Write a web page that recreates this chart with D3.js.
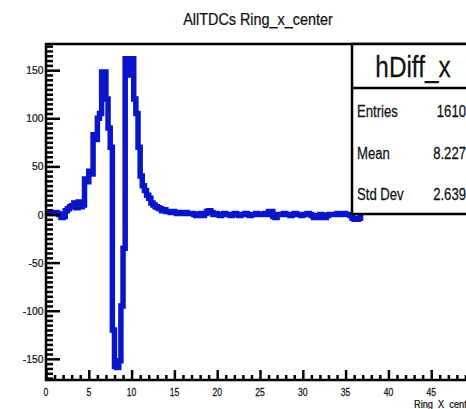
<!DOCTYPE html>
<html>
<head>
<meta charset="utf-8">
<script src="https://cdn.jsdelivr.net/npm/d3@7"></script>
<style>
  html, body { margin: 0; padding: 0; background: #fff; overflow: hidden; }
  text { font-family: "Liberation Sans", Arial, Helvetica, sans-serif; fill: #111; stroke: #111; stroke-width: 0.25px; }
</style>
</head>
<body>
<svg id="chart" width="466" height="409"></svg>
<script>
// ---- data ----
const titleText = "AllTDCs Ring_x_center";
const xAxisTitle = "Ring_X_center";
const histName = "hDiff_x";
const statLabels = ["Entries", "Mean", "Std Dev"];
const statValues = ["1610", "8.227", "2.639"];

const binLow = 0;
const binWidth = 0.25;
// bin contents, 200 bins of 0.25 from 0 to 50
const counts = [
  1, 2, 1, 1, 2, 1, 0, -3, -2, 4,
  6, 8, 9, 12, 7, 13, 8, 10, 37, 34,
  45, 42, 83, 78, 100, 105, 148, 148, 120, 90,
  70, -120, -158, -159, -152, -95, -35, 162, 162, 145,
  162, 120, 105, 70, 40, 30, 25, 20, 17, 12,
  10, 8, 7, 6, 4, 5, 3, 3, 2, 3,
  2, 1, 2, 2, 1, 2, 1, 1, 1, 0,
  -1, 0, 1, -1, 1, 3, 4, 2, 0, 1,
  0, -1, 0, 1, 0, 0, -1, 0, 1, 0,
  -1, 0, 0, 1, 0, -1, 0, 0, 1, 0,
  0, 0, 1, 0, 3, 3, -2, -3, 0, 0,
  0, 1, 0, 0, -1, 0, 1, 0, 0, -1,
  0, 0, 1, 0, -1, -3, -3, -1, 0, -3,
  -3, -1, 0, 0, 0, 0, 1, 0, 0, 1,
  0, 0, -1, -4, -5, -5, -4, 3, 4, 3,
  3, 4, 3, 3, 4, 3, 4, 3, 3, 4,
  3, 3, 4, 3, 3, 4, 3, 4, 3, 3,
  4, 3, 3, 4, 3, 3, 4, 3, 4, 3,
  3, 4, 3, 3, 4, 3, 3, 4, 3, 3,
  4, 3, 3, 4, 3, 3, 4, 3, 3, 4
];

const xTicks = [0, 5, 10, 15, 20, 25, 30, 35, 40, 45, 50];
const xTickLabels = [0, 5, 10, 15, 20, 25, 30, 35, 40, 45];
const yTicks = [-150, -100, -50, 0, 50, 100, 150];

// ---- layout ----
const frame = { left: 46, top: 44, right: 474, bottom: 380 };
const svg = d3.select("#chart");

const x = d3.scaleLinear().domain([0, 50]).range([frame.left, frame.right]);
const y = d3.scaleLinear().domain([-172, 177.2]).range([frame.bottom, frame.top]);

function label(g, px, py, str, size, anchor, sx) {
  return g.append("text")
    .attr("transform", `translate(${px},${py}) scale(${sx},1)`)
    .attr("text-anchor", anchor)
    .style("font-size", size + "px")
    .text(str);
}

// title
label(svg, 258, 25, titleText, 16, "middle", 0.9);

// histogram outline
svg.append("defs").append("clipPath").attr("id", "plotArea")
  .append("rect")
  .attr("x", frame.left).attr("y", frame.top)
  .attr("width", frame.right - frame.left).attr("height", frame.bottom - frame.top);

const pts = counts.map((c, i) => [binLow + i * binWidth, c]);
pts.push([binLow + counts.length * binWidth, counts[counts.length - 1]]);

const line = d3.line()
  .x(d => x(d[0]))
  .y(d => y(d[1]))
  .curve(d3.curveStepAfter);

svg.append("path")
  .attr("clip-path", "url(#plotArea)")
  .attr("d", line(pts))
  .attr("fill", "none")
  .attr("stroke", "#0a14c8")
  .attr("stroke-width", 5.5)
  .attr("stroke-linejoin", "miter");

// frame
svg.append("rect")
  .attr("x", frame.left).attr("y", frame.top)
  .attr("width", frame.right - frame.left).attr("height", frame.bottom - frame.top)
  .attr("fill", "none").attr("stroke", "#000").attr("stroke-width", 2.5);

// y axis ticks (drawn inward)
const yAxis = d3.axisRight(y)
  .tickValues(d3.range(-170, 176, 5))
  .tickSize(7)
  .tickFormat("");
const yg = svg.append("g").attr("transform", `translate(${frame.left},0)`).call(yAxis);
yg.select(".domain").remove();
yg.selectAll(".tick line")
  .attr("stroke", "#000").attr("stroke-width", 2.5)
  .attr("x2", d => (yTicks.includes(d) ? 14 : 7));

yTicks.forEach(v => label(svg, 43.5, y(v) + 4, String(v), 11.5, "end", 0.9));

// x axis ticks (drawn inward)
const xAxis = d3.axisTop(x)
  .tickValues(d3.range(0, 51, 1))
  .tickSize(5)
  .tickFormat("");
const xg = svg.append("g").attr("transform", `translate(0,${frame.bottom})`).call(xAxis);
xg.select(".domain").remove();
xg.selectAll(".tick line")
  .attr("stroke", "#000").attr("stroke-width", 2.5)
  .attr("y2", d => (xTicks.includes(d) ? -10 : -5));

xTickLabels.forEach(v => label(svg, x(v), 396, String(v), 11, "middle", 0.78));

label(svg, 475, 408, xAxisTitle, 10.5, "end", 0.88);

// statistics box
const box = { left: 352, top: 44, right: 474, bottom: 214, split: 88 };
svg.append("rect")
  .attr("x", box.left).attr("y", box.top)
  .attr("width", box.right - box.left).attr("height", box.bottom - box.top)
  .attr("fill", "#fff").attr("stroke", "#000").attr("stroke-width", 2.5);
svg.append("line")
  .attr("x1", box.left).attr("x2", box.right)
  .attr("y1", box.split).attr("y2", box.split)
  .attr("stroke", "#000").attr("stroke-width", 2.5);

label(svg, (box.left + box.right) / 2, 77, histName, 29, "middle", 0.84);

const rowBase = [117, 158.5, 200];
statLabels.forEach((s, i) => {
  label(svg, 357, rowBase[i], s, 16, "start", 0.82);
  label(svg, 466, rowBase[i], statValues[i], 16, "end", 0.82);
});
</script>
</body>
</html>
